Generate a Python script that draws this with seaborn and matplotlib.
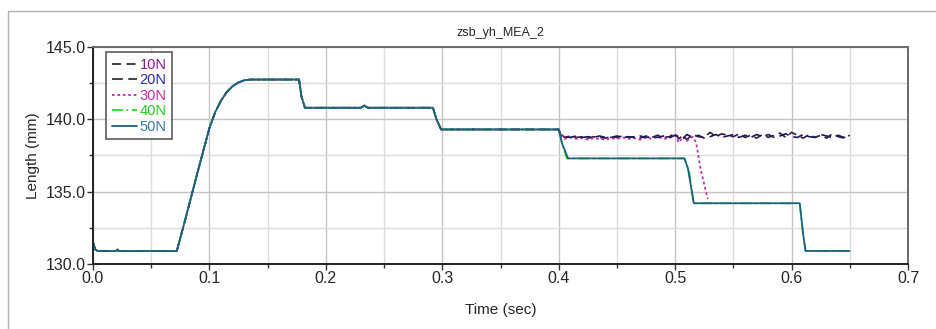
import numpy as np
import pandas as pd
import matplotlib
matplotlib.use("Agg")
import matplotlib.pyplot as plt
import seaborn as sns
from matplotlib.ticker import MultipleLocator, FormatStrFormatter
from matplotlib.lines import Line2D

# ---- data ----
t_common = [0.0, 0.002, 0.004, 0.02, 0.021, 0.022, 0.072, 0.08, 0.09, 0.1, 0.105, 0.11,
            0.115, 0.12, 0.125, 0.13, 0.135, 0.177, 0.179, 0.182, 0.23, 0.233, 0.236,
            0.292, 0.295, 0.299, 0.4]
len_common = [131.5, 131.0, 130.9, 130.9, 131.0, 130.9, 130.9, 133.3, 136.4, 139.4, 140.5,
              141.3, 141.9, 142.3, 142.55, 142.7, 142.75, 142.75, 141.6, 140.8, 140.8,
              140.95, 140.8, 140.8, 140.0, 139.3, 139.3]

t_50 = [0.403, 0.408, 0.508, 0.511, 0.516, 0.607, 0.610, 0.612, 0.65]
len_50 = [138.3, 137.3, 137.3, 136.6, 134.2, 134.2, 132.0, 130.9, 130.9]

t_40 = [0.402, 0.407, 0.508, 0.512, 0.516, 0.607, 0.610, 0.612, 0.65]
len_40 = [138.6, 137.3, 137.3, 136.4, 134.2, 134.2, 132.0, 130.9, 130.9]

t_tail = [0.402, 0.405, 0.41, 0.415, 0.42, 0.425, 0.43, 0.435, 0.44, 0.445, 0.45, 0.455,
          0.46, 0.465, 0.47, 0.475, 0.48, 0.485, 0.49, 0.495, 0.5, 0.503, 0.507, 0.51,
          0.515, 0.52, 0.525, 0.53, 0.535, 0.54, 0.545, 0.55, 0.555, 0.56, 0.565, 0.57,
          0.575, 0.58, 0.585, 0.59, 0.595, 0.6, 0.605, 0.61, 0.615, 0.62, 0.625, 0.63,
          0.635, 0.64, 0.645, 0.65]
len_10 = [139.0, 138.75, 138.85, 138.75, 138.8, 138.7, 138.8, 138.75, 138.7, 138.8, 138.75,
          138.85, 138.75, 138.8, 138.7, 138.85, 138.75, 138.9, 138.75, 138.8, 139.05, 138.65,
          138.9, 138.6, 138.95, 138.8, 138.75, 139.1, 138.8, 139.0, 138.9, 138.8, 139.0,
          138.75, 138.9, 138.7, 138.95, 138.75, 138.9, 139.05, 138.75, 139.1, 138.9, 138.7,
          138.95, 138.75, 138.9, 138.7, 139.0, 138.8, 138.7, 138.9]
len_20 = [138.9, 138.8, 138.75, 138.85, 138.75, 138.8, 138.75, 138.85, 138.75, 138.75, 138.85,
          138.75, 138.8, 138.75, 138.85, 138.75, 138.8, 138.75, 138.85, 138.75, 138.9, 138.8,
          138.7, 138.95, 138.75, 138.9, 138.7, 138.8, 138.95, 138.75, 138.85, 138.95, 138.75,
          138.9, 138.75, 138.95, 138.8, 138.95, 138.75, 138.85, 139.0, 138.8, 138.75, 138.95,
          138.8, 138.75, 138.95, 138.85, 138.75, 138.9, 138.75, 138.8]

t_30 = [0.402, 0.405, 0.41, 0.415, 0.42, 0.425, 0.43, 0.435, 0.44, 0.445, 0.45, 0.455,
        0.46, 0.465, 0.47, 0.475, 0.48, 0.485, 0.49, 0.495, 0.5, 0.503, 0.507, 0.51, 0.515,
        0.518, 0.522, 0.528]
len_30 = [138.9, 138.65, 138.75, 138.65, 138.7, 138.6, 138.7, 138.65, 138.6, 138.7, 138.65,
          138.75, 138.65, 138.7, 138.6, 138.75, 138.65, 138.8, 138.65, 138.7, 138.9, 138.4,
          138.8, 138.5, 138.8, 138.4, 136.5, 134.5]

series_names = ["10N", "20N", "30N", "40N", "50N"]

# ---- assemble ----
def build(name, t_extra, l_extra):
    return pd.DataFrame({"Time": t_common + t_extra, "Length": len_common + l_extra,
                         "series": name})

frames = {
    "10N": build("10N", t_tail, len_10),
    "20N": build("20N", t_tail, len_20),
    "30N": build("30N", t_30, len_30),
    "40N": build("40N", t_40, len_40),
    "50N": build("50N", t_50, len_50),
}

line_colors = {"10N": "#3a1a3a", "20N": "#1a1a5a", "30N": "#c42aa8",
               "40N": "#22dd22", "50N": "#1f5f7f"}
text_colors = {"10N": "#8a1a8a", "20N": "#2828a8", "30N": "#c42aa8",
               "40N": "#22cc22", "50N": "#3a78a8"}
styles = {"10N": (0, (5, 3)), "20N": (0, (6, 3)), "30N": (0, (1.5, 1.5)),
          "40N": (0, (6, 2, 1, 2)), "50N": "-"}
widths = {"10N": 1.2, "20N": 1.2, "30N": 1.3, "40N": 1.3, "50N": 1.3}

sns.set_style("white")
plt.rcParams['font.family'] = ['Liberation Sans', 'DejaVu Sans']

fig = plt.figure(figsize=(9.36, 3.29), dpi=100)
ax = fig.add_axes([93/936, 1 - 264/329, (908-93)/936, (264-47)/329])

for name in ["10N", "30N", "20N", "40N", "50N"]:
    sns.lineplot(data=frames[name], x="Time", y="Length", ax=ax, color=line_colors[name],
                 linestyle=styles[name], linewidth=widths[name], sort=False,
                 estimator=None, legend=False)

ax.set_xlim(0, 0.7)
ax.set_ylim(130, 145)
ax.xaxis.set_major_locator(MultipleLocator(0.1))
ax.xaxis.set_minor_locator(MultipleLocator(0.05))
ax.yaxis.set_major_locator(MultipleLocator(5))
ax.yaxis.set_minor_locator(MultipleLocator(2.5))
ax.xaxis.set_major_formatter(FormatStrFormatter('%.1f'))
ax.yaxis.set_major_formatter(FormatStrFormatter('%.1f'))
ax.grid(True, which="major", color="#c4c4c4", linewidth=1.0)
ax.grid(True, which="minor", color="#dcdcdc", linewidth=1.0)
ax.set_axisbelow(True)
ax.tick_params(axis="both", which="major", direction="out", length=4, width=1,
               labelsize=11.5, color="#333333", pad=1)
ax.tick_params(axis="both", which="minor", direction="out", length=3, width=1,
               color="#333333")
ax.tick_params(axis="both", which="both", bottom=True, left=True)

for side in ["left", "bottom"]:
    ax.spines[side].set_color("#222222")
    ax.spines[side].set_linewidth(1.4)
for side in ["top", "right"]:
    ax.spines[side].set_color("#6a6a6a")
    ax.spines[side].set_linewidth(1.4)

ax.set_xlabel("Time (sec)", fontsize=11, labelpad=12)
ax.set_ylabel("Length (mm)", fontsize=11, labelpad=4)
ax.set_title("zsb_yh_MEA_2", fontsize=9, pad=8)

handles = [Line2D([0], [0], color=line_colors[n], linestyle=styles[n], linewidth=1.3)
           for n in series_names]
handles[0].set_color("#333333")
handles[1].set_color("#333333")
leg = ax.legend(handles, series_names, loc="upper left", bbox_to_anchor=(0.016, 0.977),
                frameon=True, fancybox=False, fontsize=10.5, handlelength=1.7,
                handletextpad=0.2, labelspacing=0.1, borderpad=0.4,
                borderaxespad=0.0)
leg.get_frame().set_edgecolor("#333333")
leg.get_frame().set_linewidth(1.2)
for txt, n in zip(leg.get_texts(), series_names):
    txt.set_color(text_colors[n])

# outer frame lines
fig.add_artist(Line2D([8/936, 1.0], [1 - 11/329, 1 - 11/329], color="#b0b0b0",
                      linewidth=1.0, transform=fig.transFigure))
fig.add_artist(Line2D([8/936, 8/936], [0.0, 1 - 11/329], color="#b0b0b0",
                      linewidth=1.0, transform=fig.transFigure))

fig.savefig("out.png", dpi=100)
